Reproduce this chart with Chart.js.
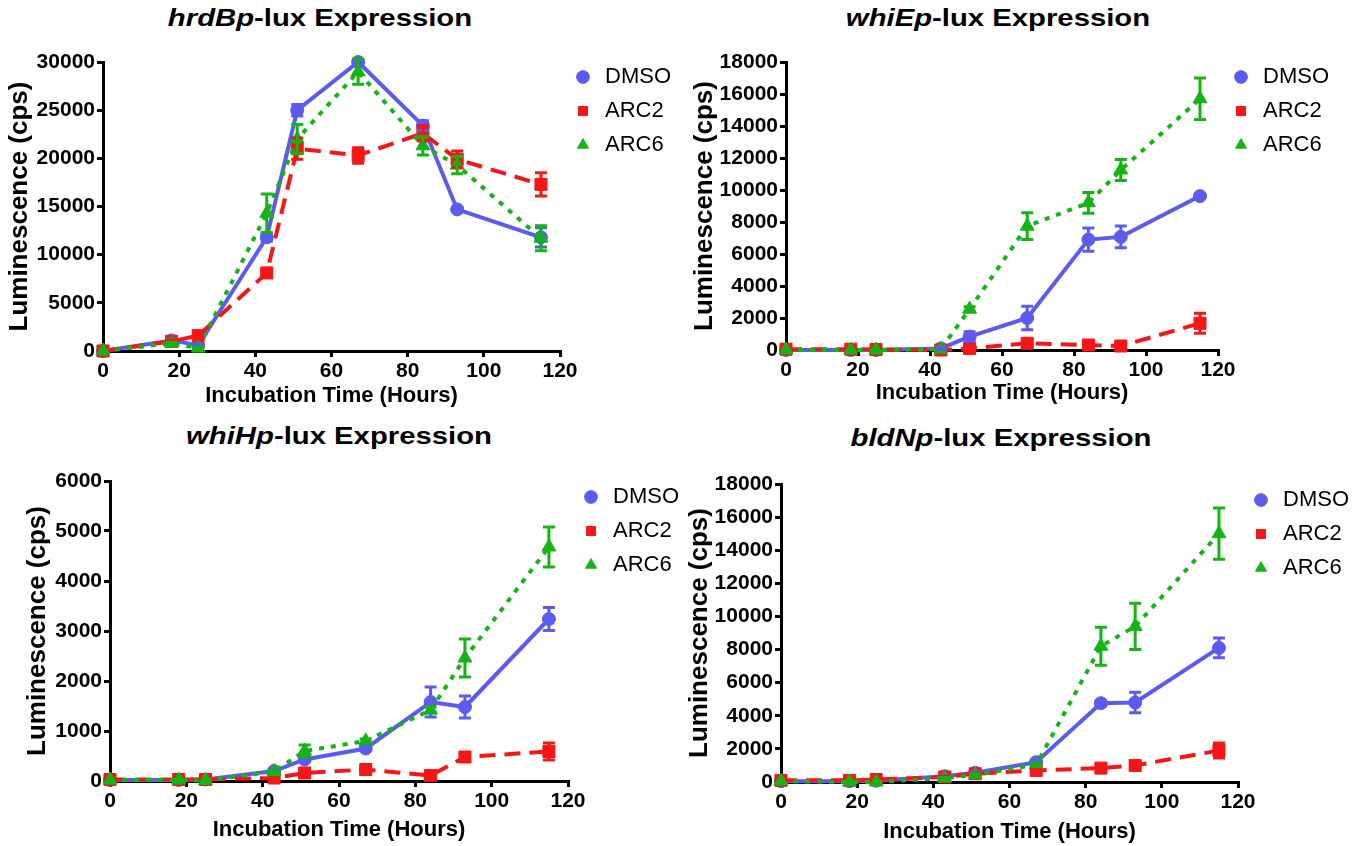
<!DOCTYPE html>
<html>
<head>
<meta charset="utf-8">
<script src="https://cdn.jsdelivr.net/npm/chart.js@4.4.0/dist/chart.umd.min.js"></script>
<style>
html,body{margin:0;padding:0;background:#fff;width:1356px;height:846px;overflow:hidden;position:relative;font-family:"Liberation Sans",Arial,sans-serif;}
.ttl{position:absolute;font-weight:bold;font-size:24px;line-height:24px;white-space:nowrap;color:#000;transform:translateX(-50%) scaleX(1.22);}
.pnl{position:absolute;}
</style>
</head>
<body>
<div class="ttl" style="left:320px;top:6px"><i>hrdBp</i>-lux Expression</div>
<div class="ttl" style="left:998px;top:6px"><i>whiEp</i>-lux Expression</div>
<div class="ttl" style="left:339px;top:424px"><i>whiHp</i>-lux Expression</div>
<div class="ttl" style="left:1001px;top:426px"><i>bldNp</i>-lux Expression</div>

<div class="pnl" style="left:0px;top:40px"><canvas id="c1" width="700" height="371"></canvas></div>
<div class="pnl" style="left:680px;top:40px"><canvas id="c2" width="700" height="368"></canvas></div>
<div class="pnl" style="left:0px;top:458px"><canvas id="c3" width="700" height="387"></canvas></div>
<div class="pnl" style="left:680px;top:458px"><canvas id="c4" width="700" height="389"></canvas></div>

<script>
// ---------- data ----------
const hours = [0, 18, 25, 43, 51, 67, 84, 93, 115];
const seriesNames = ['DMSO', 'ARC2', 'ARC6'];
const xTickValues = [0, 20, 40, 60, 80, 100, 120];

// hrdBp-lux
const hrdB_DMSO = [0, 1100, 600, 11800, 25000, 30000, 23400, 14700, 11800];
const hrdB_DMSO_err = [0, 150, 100, 400, 600, 200, 500, 200, 1000];
const hrdB_ARC2 = [0, 1000, 1600, 8100, 21000, 20300, 22600, 19900, 17300];
const hrdB_ARC2_err = [0, 150, 200, 300, 1100, 800, 800, 850, 1200];
const hrdB_ARC6 = [0, 800, 300, 14300, 22000, 29000, 21300, 19300, 11700];
const hrdB_ARC6_err = [0, 100, 100, 2000, 1500, 1300, 950, 900, 1300];
const hrdB_yTicks = [0, 5000, 10000, 15000, 20000, 25000, 30000];

// whiEp-lux
const whiE_DMSO = [0, 0, 0, 100, 840, 2000, 6900, 7070, 9620];
const whiE_DMSO_err = [0, 0, 0, 50, 300, 730, 730, 680, 100];
const whiE_ARC2 = [50, 50, 30, 0, 100, 420, 310, 250, 1670];
const whiE_ARC2_err = [0, 0, 0, 0, 100, 200, 200, 150, 620];
const whiE_ARC6 = [0, 0, 0, 50, 2550, 7740, 9200, 11250, 15700];
const whiE_ARC6_err = [0, 0, 0, 0, 150, 840, 650, 650, 1300];
const whiE_yTicks = [0, 2000, 4000, 6000, 8000, 10000, 12000, 14000, 16000, 18000];

// whiHp-lux
const whiH_DMSO = [20, 20, 30, 200, 430, 650, 1580, 1480, 3240];
const whiH_DMSO_err = [0, 0, 0, 30, 40, 40, 300, 220, 230];
const whiH_ARC2 = [30, 30, 30, 60, 160, 230, 110, 480, 590];
const whiH_ARC2_err = [0, 0, 0, 0, 20, 30, 60, 50, 170];
const whiH_ARC6 = [20, 20, 10, 190, 600, 800, 1420, 2460, 4680];
const whiH_ARC6_err = [0, 0, 0, 20, 120, 40, 60, 380, 400];
const whiH_yTicks = [0, 1000, 2000, 3000, 4000, 5000, 6000];

// bldNp-lux
const bldN_DMSO = [50, 50, 80, 350, 560, 1200, 4760, 4800, 8100];
const bldN_DMSO_err = [0, 0, 0, 50, 60, 100, 150, 620, 600];
const bldN_ARC2 = [100, 100, 150, 300, 500, 700, 840, 1000, 1900];
const bldN_ARC2_err = [0, 0, 0, 50, 50, 80, 100, 100, 450];
const bldN_ARC6 = [50, 0, 0, 240, 440, 1040, 8200, 9400, 15000];
const bldN_ARC6_err = [0, 0, 0, 30, 60, 100, 1150, 1400, 1550];
const bldN_yTicks = [0, 2000, 4000, 6000, 8000, 10000, 12000, 14000, 16000, 18000];

// ---------- styling ----------
const FONT = '"Liberation Sans", Arial, sans-serif';
const COLORS = ['#5b5bf2', '#f51616', '#14b414'];
const DASHES = [[], [16, 9], [5, 7]];
const POINTS = [['circle', 6.5], ['rect', 8.5], ['triangle', 8]];
const ORDERS = [3, 2, 1];

const errorBarPlugin = {
  id: 'errorBars',
  afterDatasetsDraw(chart) {
    const ctx = chart.ctx;
    const yScale = chart.scales.y;
    const metas = chart.getSortedVisibleDatasetMetas().slice().reverse();
    metas.forEach(meta => {
      const ds = chart.data.datasets[meta.index];
      if (!ds.errors) return;
      ctx.save();
      ctx.strokeStyle = ds.borderColor;
      ctx.lineWidth = 3;
      ctx.setLineDash([]);
      meta.data.forEach((pt, i) => {
        const e = ds.errors[i];
        if (!e) return;
        const v = ds.data[i].y;
        const yt = yScale.getPixelForValue(v + e);
        const yb = yScale.getPixelForValue(Math.max(v - e, yScale.min));
        const x = pt.x;
        ctx.beginPath();
        ctx.moveTo(x, yt); ctx.lineTo(x, yb);
        ctx.moveTo(x - 6, yt); ctx.lineTo(x + 6, yt);
        ctx.moveTo(x - 6, yb); ctx.lineTo(x + 6, yb);
        ctx.stroke();
      });
      ctx.restore();
    });
  }
};

function makeChart(id, series, errs, yTicks, L) {
  const datasets = series.map((vals, k) => ({
    label: seriesNames[k],
    data: hours.map((h, i) => ({x: h, y: vals[i]})),
    errors: errs[k],
    borderColor: COLORS[k],
    backgroundColor: COLORS[k],
    borderWidth: 4,
    borderDash: DASHES[k],
    borderCapStyle: 'butt',
    pointStyle: POINTS[k][0],
    pointRadius: POINTS[k][1],
    pointBorderWidth: 1,
    pointBackgroundColor: COLORS[k],
    pointBorderColor: COLORS[k],
    tension: 0,
    order: ORDERS[k],
    clip: false
  }));
  const axisCommon = {
    border: {color: '#000', width: 3},
    grid: {display: true, drawOnChartArea: false, drawTicks: true, tickLength: 6, color: '#000', lineWidth: 3},
  };
  return new Chart(document.getElementById(id), {
    type: 'line',
    data: {datasets},
    plugins: [errorBarPlugin],
    options: {
      responsive: false,
      animation: false,
      events: [],
      layout: {padding: {top: L.padTop, right: L.padRight, left: 0, bottom: 0}},
      plugins: {
        tooltip: {enabled: false},
        title: {display: false},
        legend: {
          position: 'right',
          align: 'start',
          labels: {
            usePointStyle: true,
            boxWidth: 22,
            boxHeight: 9,
            padding: 12,
            color: '#000',
            font: {family: FONT, size: 22, weight: 'normal'},
            sort: (a, b) => a.datasetIndex - b.datasetIndex,
            generateLabels: (chart) => {
              const items = Chart.defaults.plugins.legend.labels.generateLabels(chart);
              items.forEach(it => { it.lineWidth = 1; it.lineDash = []; });
              return items;
            }
          }
        }
      },
      scales: {
        x: Object.assign({}, axisCommon, {
          type: 'linear', min: 0, max: 120,
          afterBuildTicks: s => { s.ticks = xTickValues.map(v => ({value: v})); },
          afterFit: s => { s.height = L.xh; },
          ticks: {color: '#000', padding: 2, maxRotation: 0, autoSkip: false,
                  callback: v => String(v),
                  font: {family: FONT, size: 21, weight: 'bold'}},
          title: {display: true, text: 'Incubation Time (Hours)', color: '#000',
                  padding: {top: 0, bottom: 2},
                  font: {family: FONT, size: 22, weight: 'bold'}}
        }),
        y: Object.assign({}, axisCommon, {
          type: 'linear', min: 0, max: yTicks[yTicks.length - 1],
          afterBuildTicks: s => { s.ticks = yTicks.map(v => ({value: v})); },
          afterFit: s => { s.width = L.yw; s.paddingTop = L.areaTop; },
          ticks: {color: '#000', padding: 2, autoSkip: false,
                  callback: v => String(v),
                  font: {family: FONT, size: 21, weight: 'bold'}},
          title: {display: true, text: 'Luminescence (cps)', color: '#000',
                  padding: {top: L.yTitlePad, bottom: 0},
                  font: {family: FONT, size: 26, weight: 'bold'}}
        })
      }
    }
  });
}

makeChart('c1', [hrdB_DMSO, hrdB_ARC2, hrdB_ARC6], [hrdB_DMSO_err, hrdB_ARC2_err, hrdB_ARC6_err], hrdB_yTicks,
  {padTop: 14, padRight: 19, xh: 60, yw: 103, areaTop: 22, yTitlePad: 4});
makeChart('c2', [whiE_DMSO, whiE_ARC2, whiE_ARC6], [whiE_DMSO_err, whiE_ARC2_err, whiE_ARC6_err], whiE_yTicks,
  {padTop: 14, padRight: 41, xh: 58, yw: 106, areaTop: 22, yTitlePad: 9});
makeChart('c3', [whiH_DMSO, whiH_ARC2, whiH_ARC6], [whiH_DMSO_err, whiH_ARC2_err, whiH_ARC6_err], whiH_yTicks,
  {padTop: 16, padRight: 11, xh: 64, yw: 110, areaTop: 23, yTitlePad: 22});
makeChart('c4', [bldN_DMSO, bldN_ARC2, bldN_ARC6], [bldN_DMSO_err, bldN_ARC2_err, bldN_ARC6_err], bldN_yTicks,
  {padTop: 19, padRight: 21, xh: 65, yw: 101, areaTop: 26, yTitlePad: 4});
</script>
</body>
</html>
